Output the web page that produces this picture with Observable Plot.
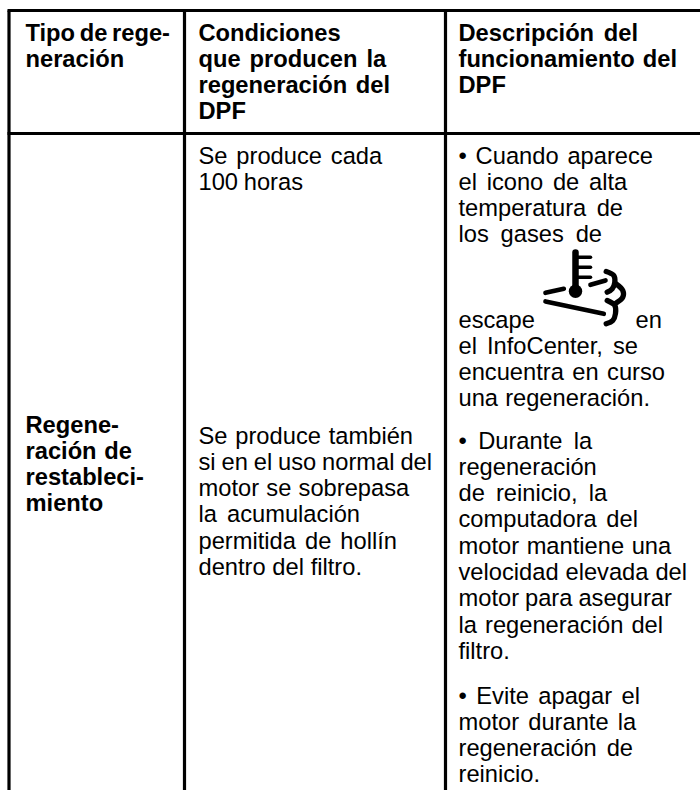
<!DOCTYPE html>
<html><head><meta charset="utf-8">
<script src="https://cdn.jsdelivr.net/npm/d3@7"></script>
<script src="https://cdn.jsdelivr.net/npm/@observablehq/plot@0.6"></script>
<style>html,body{margin:0;padding:0;background:#fff}svg{display:block}</style>
</head><body><div id="c"></div>
<script>
const headerCol1 = ["Tipo de rege-", "neración"];
const headerCol2 = ["Condiciones", "que producen la", "regeneración del", "DPF"];
const headerCol3 = ["Descripción del", "funcionamiento del", "DPF"];
const bodyCol1 = ["Regene-", "ración de", "restableci-", "miento"];
const bodyCol2a = ["Se produce cada", "100 horas"];
const bodyCol2b = ["Se produce también", "si en el uso normal del", "motor se sobrepasa", "la acumulación", "permitida de hollín", "dentro del filtro."];
const bodyCol3a = ["• Cuando aparece", "el icono de alta", "temperatura de", "los gases de"];
const bodyCol3b = ["el InfoCenter, se", "encuentra en curso", "una regeneración."];
const bodyCol3c = ["• Durante la", "regeneración", "de reinicio, la", "computadora del", "motor mantiene una", "velocidad elevada del", "motor para asegurar", "la regeneración del", "filtro."];
const bodyCol3d = ["• Evite apagar el", "motor durante la", "regeneración de", "reinicio."];

// right ends of the justified lines, in picture pixels
const lineEnds = new Map([
  ["Tipo de rege-", 170], ["que producen la", 387], ["regeneración del", 390],
  ["Descripción del", 638], ["funcionamiento del", 677],
  ["ración de", 132], ["Se produce cada", 383], ["100 horas", 303],
  ["Se produce también", 413], ["si en el uso normal del", 432], ["motor se sobrepasa", 410],
  ["la acumulación", 360], ["permitida de hollín", 397], ["dentro del filtro.", 362],
  ["• Cuando aparece", 653], ["el icono de alta", 628], ["temperatura de", 623], ["los gases de", 602],
  ["el InfoCenter, se", 638], ["encuentra en curso", 665], ["una regeneración.", 650],
  ["• Durante la", 593], ["de reinicio, la", 608], ["computadora del", 638],
  ["motor mantiene una", 672], ["velocidad elevada del", 687], ["motor para asegurar", 672],
  ["la regeneración del", 663], ["• Evite apagar el", 640], ["motor durante la", 637], ["regeneración de", 633]
]);

const LH = 26.3, FS = 23.7;
const X = [25, 198, 458];
const block = (lines, x, y0, bold) => lines.map((t, i) => ({t, x, y: y0 + i * LH, bold}));
const texts = [
  ...block(headerCol1, X[0], 40, true),
  ...block(headerCol2, X[1], 40, true),
  ...block(headerCol3, X[2], 40, true),
  ...block(bodyCol1, X[0], 432, true),
  ...block(bodyCol2a, X[1], 163, false),
  ...block(bodyCol2b, X[1], 443, false),
  ...block(bodyCol3a, X[2], 163, false),
  ...block(["escape"], X[2], 327, false),
  ...block(["en"], 635, 327, false),
  ...block(bodyCol3b, X[2], 353, false),
  ...block(bodyCol3c, X[2], 448, false),
  ...block(bodyCol3d, X[2], 703, false)
];
const rules = [
  {x1: 7, x2: 700, y1: 10, y2: 10},
  {x1: 7, x2: 700, y1: 133, y2: 133},
  {x1: 8.5, x2: 8.5, y1: 10, y2: 790},
  {x1: 184, x2: 184, y1: 10, y2: 790},
  {x1: 445, x2: 445, y1: 10, y2: 790}
];
const iconStroke = [
  {k: "stem", w: 6.5, x: 575, y: 252}, {k: "stem", w: 6.5, x: 575, y: 290},
  {k: "t1", w: 3.5, x: 575, y: 256.7}, {k: "t1", w: 3.5, x: 590, y: 256.7},
  {k: "t2", w: 3.5, x: 575, y: 266.7}, {k: "t2", w: 3.5, x: 590, y: 266.7},
  {k: "t3", w: 3.5, x: 575, y: 276.7}, {k: "t3", w: 3.5, x: 590, y: 276.7},
  {k: "d1", w: 4.7, x: 545, y: 292.3}, {k: "d1", w: 4.7, x: 563.3, y: 288.3},
  {k: "d2", w: 4.7, x: 590, y: 284.3}, {k: "d2", w: 4.7, x: 605, y: 280},
  {k: "d3", w: 4.7, x: 545, y: 301}, {k: "d3", w: 4.7, x: 603.3, y: 313.3},
  {k: "c1", w: 5.3, x: 605.7, y: 271}, {k: "c1", w: 5.3, x: 613.3, y: 275}, {k: "c1", w: 5.3, x: 614.3, y: 281.7}, {k: "c1", w: 5.3, x: 611.7, y: 288.3}, {k: "c1", w: 5.3, x: 606.7, y: 291.7},
  {k: "c2", w: 5.3, x: 615, y: 283}, {k: "c2", w: 5.3, x: 622.3, y: 290}, {k: "c2", w: 5.3, x: 622.3, y: 296.7}, {k: "c2", w: 5.3, x: 615, y: 303},
  {k: "c3", w: 5.3, x: 606.7, y: 300}, {k: "c3", w: 5.3, x: 614.3, y: 305}, {k: "c3", w: 5.3, x: 615, y: 313}, {k: "c3", w: 5.3, x: 612.3, y: 320}, {k: "c3", w: 5.3, x: 605.7, y: 323.3}
];
const iconGroups = d3.groups(iconStroke, d => d.k);

const plot = Plot.plot({
  width: 700, height: 790,
  margin: 0,
  style: {background: "#fff"},
  x: {domain: [0, 700], range: [0, 700], axis: null},
  y: {domain: [0, 790], range: [0, 790], axis: null},
  marks: [
    Plot.link(rules, {x1: "x1", x2: "x2", y1: "y1", y2: "y2", stroke: "#000", strokeWidth: 3.2}),
    ...iconGroups.map(([k, pts]) => Plot.line(pts, {x: "x", y: "y", stroke: "#000", strokeWidth: pts[0].w, strokeLinecap: "round", curve: pts.length > 2 ? "catmull-rom" : "linear"})),
    Plot.dot([{x: 575, y: 290.7}], {x: "x", y: "y", r: 6.7, fill: "#000"}),
    Plot.text(texts.filter(d => !d.bold), {x: "x", y: "y", text: "t", textAnchor: "start", lineAnchor: "bottom", fontFamily: "Liberation Sans", fontSize: FS, fill: "#000"}),
    Plot.text(texts.filter(d => d.bold), {x: "x", y: "y", text: "t", textAnchor: "start", lineAnchor: "bottom", fontFamily: "Liberation Sans", fontSize: FS, fontWeight: "bold", fill: "#000"})
  ]
});
document.getElementById("c").appendChild(plot);

// Justify: spread the word gaps of each line to reach its right end.
const origin = plot.getBoundingClientRect().left;
d3.select(plot).selectAll("text").each(function () {
  const s = this.textContent, end = lineEnds.get(s);
  if (end === undefined) return;
  const gaps = s.split(" ").length - 1;
  if (!gaps) return;
  const right = this.getBoundingClientRect().right - origin;
  this.style.wordSpacing = ((end - right) / gaps).toFixed(2) + "px";
});
</script></body></html>
